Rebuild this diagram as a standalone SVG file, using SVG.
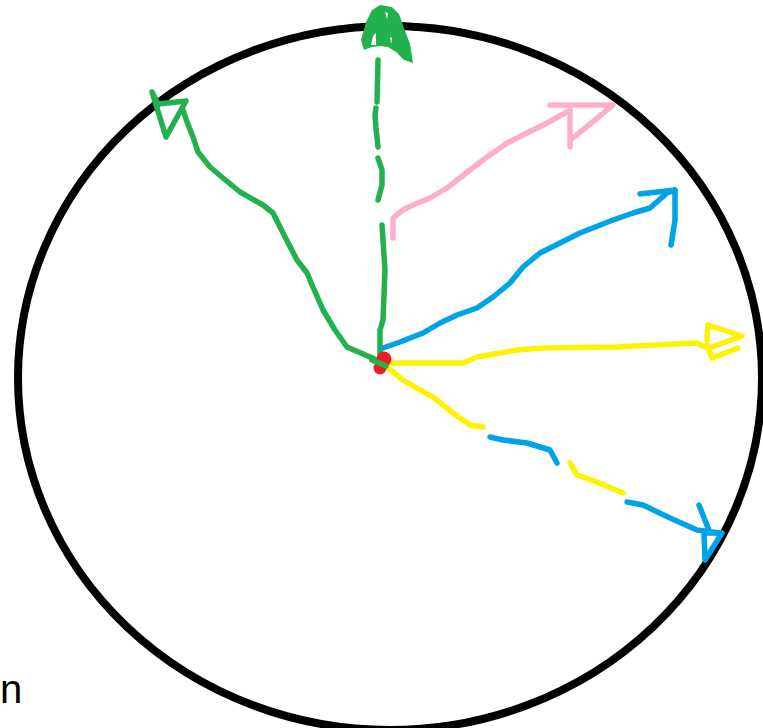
<svg xmlns="http://www.w3.org/2000/svg" width="763" height="728" viewBox="0 0 763 728">
<style>
.ln{fill:none;stroke-width:5.5;stroke-linecap:round;stroke-linejoin:round}
.g{stroke:#22b14c}.p{stroke:#ffaec9}.b{stroke:#00a2e8}.y{stroke:#fff200}
.t{font-family:"Liberation Sans",Arial,sans-serif;font-size:40px;fill:#000}
</style>
<rect width="763" height="728" fill="#fff"/>
<g id="circle">
<ellipse cx="390" cy="378" rx="372" ry="352" fill="none" stroke="#000" stroke-width="8"/>
</g>
<g id="connectors">
<path class="ln g" d="M380,355 L380,330 L383,320 L385,270 L382,225"/>
<path class="ln g" d="M378,200 L382,185 L382,170 L378,158"/>
<path class="ln g" d="M378,147 L376,128 L375,115 L376,108"/>
<path class="ln g" d="M377,102 L378,60"/>
<path class="ln g" d="M383,363 L370,357 L347,347 L335,330 L323,310 L313,287 L307,273 L297,260 L283,233 L273,213 L263,205 L240,192 L223,178 L210,167 L198,152 L193,137 L187,122 L183,110"/>
<path class="ln p" d="M393,238 L393,218 L403,210 L413,205 L430,198 L447,188 L470,170 L487,157 L507,143 L527,133 L547,123 L567,112"/>
<path class="ln b" d="M383,348 L400,342 L423,333 L440,323 L457,315 L477,308 L493,297 L510,283 L523,267 L540,253 L560,243 L580,233 L613,220 L633,213 L650,208 L667,193 L675,190"/>
<path class="ln y" d="M387,363 L463,363 L477,357 L517,350 L543,348 L617,347 L653,345 L697,343 L705,347"/>
<path class="ln y" d="M387,367 L403,380 L420,390 L433,397 L453,413 L470,425 L483,427"/>
<path class="ln b" d="M490,437 L503,440 L527,443 L550,450 L557,463"/>
<path class="ln y" d="M570,463 L577,475 L597,482 L623,493"/>
<path class="ln b" d="M627,502 L643,505 L670,518 L697,530 L720,533"/>
</g>
<g id="arrowheads">
<path fill="#22b14c" d="M372,10 L380,5 L392,7 L399,14 L404,28 L410,44 L413,63 L404,60 L396,52 L388,47 L380,46 L372,47 L364,50 L361,40 L366,22 Z"/>
<path fill="#fff" d="M373,36 L376,33 L376,45 L371,45 Z"/>
<path fill="#fff" d="M385,12 L388,13 L387,19 Z"/>
<path fill="#fff" d="M390,37 L392,38 L391,44 Z"/>
<path class="ln g" d="M152,92 L158,104 L186,101 L166,137 Z"/>
<path class="ln p" d="M550,105 L613,105 L585,128 L573,138 M570,110 L570,147"/>
<path class="ln b" d="M640,194 L675,190 L675,220 L671,245"/>
<path class="ln y" d="M708,325 L742,336 L712,347 M707,345 L712,358 L738,348"/>
<path class="ln y" d="M708,325 L707,340"/>
<path class="ln b" d="M699,505 L710,533 M704,533 L722,533 L705,560 L704,534"/>
</g>
<g id="center">
<circle cx="384" cy="359" r="7.5" fill="#ed1c24"/>
<circle cx="380" cy="368" r="6.5" fill="#ed1c24"/>
<path class="ln g" d="M372,360 L386,366" stroke-width="3"/>
</g>
<text class="t" x="0" y="703">n</text>
</svg>
